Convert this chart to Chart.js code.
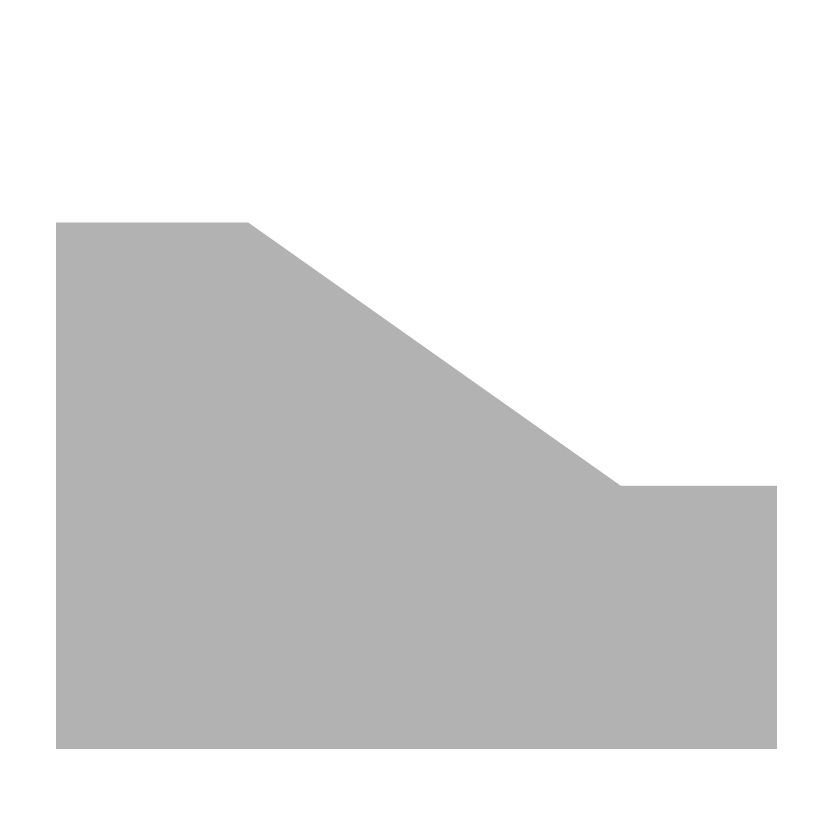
<!DOCTYPE html>
<html>
<head>
<meta charset="utf-8">
<style>
  html, body { margin: 0; padding: 0; background: #fff; }
  #wrap { width: 833px; height: 833px; }
</style>
<script src="https://cdn.jsdelivr.net/npm/chart.js@4/dist/chart.umd.min.js"></script>
</head>
<body>
<div id="wrap"><canvas id="chart"></canvas></div>
<script>
// profile points (distance, height)
const distances = [0, 8, 23.5, 30];
const heights = [8, 8, 4, 4];

const points = distances.map((x, i) => ({ x, y: heights[i] }));

const ctx = document.getElementById('chart').getContext('2d');

new Chart(ctx, {
  type: 'line',
  data: {
    datasets: [
      {
        data: points,
        fill: 'origin',
        backgroundColor: '#b2b2b2',
        borderWidth: 0,
        pointRadius: 0,
        tension: 0,
      },
    ],
  },
  options: {
    responsive: true,
    maintainAspectRatio: false,
    animation: false,
    layout: {
      padding: { left: 56, right: 56, top: 91, bottom: 84 },
    },
    plugins: {
      legend: { display: false },
      tooltip: { enabled: false },
    },
    scales: {
      x: { type: 'linear', min: 0, max: 30, display: false },
      y: { min: 0, max: 10, display: false },
    },
  },
});
</script>
</body>
</html>
